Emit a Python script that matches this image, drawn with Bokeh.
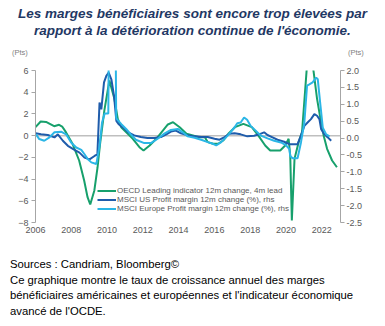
from bokeh.plotting import figure
from bokeh.models import (Range1d, LinearAxis, FixedTicker, NumeralTickFormatter, Span,
                          Legend, LegendItem, Div)
from bokeh.layouts import column
from bokeh.embed import file_html
from bokeh.resources import INLINE

# ---------------- data ----------------
title_lines = ["Les marges bénéficiaires sont encore trop élevées par",
               "rapport à la détérioration continue de l'économie."]
footer_lines = ["Sources : Candriam, Bloomberg©",
                "Ce graphique montre le taux de croissance annuel des marges",
                "bénéficiaires américaines et européennes et l'indicateur économique",
                "avancé de l'OCDE."]
legend_labels = ["OECD Leading indicator 12m change, 4m lead",
                 "MSCI US Profit margin 12m change (%), rhs",
                 "MSCI Europe Profit margin 12m change (%), rhs"]
year_ticks = [2006, 2008, 2010, 2012, 2014, 2016, 2018, 2020, 2022]
left_ticks = [-8, -6, -4, -2, 0, 2, 4, 6]
right_ticks = [-2.5, -2.0, -1.5, -1.0, -0.5, 0.0, 0.5, 1.0, 1.5, 2.0]

# OECD leading indicator, 12m change, 4m lead (left axis, pts)
oecd_year = [2006.00, 2006.29, 2006.59, 2007.04, 2007.32, 2007.49, 2007.70, 2008.07, 2008.44,
             2008.72, 2008.91, 2009.06, 2009.29, 2009.47, 2009.61, 2009.85, 2010.13, 2010.41,
             2010.60, 2010.79, 2011.16, 2011.44, 2011.81, 2012.04, 2012.38, 2012.75, 2013.12,
             2013.40, 2013.69, 2014.06, 2014.44, 2015.00, 2015.17, 2015.47, 2015.63, 2015.92,
             2016.21, 2016.49, 2016.78, 2017.15, 2017.62, 2018.09, 2018.46, 2018.84, 2019.12,
             2019.68, 2019.96, 2020.15, 2020.24, 2020.33, 2020.48, 2020.71, 2020.90, 2021.08,
             2021.20, 2021.33, 2021.46, 2021.55, 2021.74, 2021.93, 2022.11, 2022.30, 2022.58,
             2022.85]
oecd_val = [0.78, 1.30, 1.26, 0.87, 1.00, 0.84, 0.32, -0.75, -2.29,
            -4.13, -5.67, -6.34, -5.05, -2.91, -0.75, 2.32, 5.08, 3.39,
            1.55, 0.78, 0.17, -0.29, -1.06, -1.37, -0.91, -0.29, 0.47,
            1.03, 1.24, 0.78, 0.17, -0.08, -0.14, -0.14, -0.60, -0.75,
            -0.75, -0.45, 0.17, 0.78, 1.09, 0.78, 0.00, -0.91, -1.37,
            -1.37, -0.91, -0.29, -1.83, -7.82, -2.13, -0.60, 0.32, 4.31,
            7.00, 8.30, 7.00, 5.84, 3.39, 1.55, 0.00, -1.21, -2.29,
            -2.91]

# MSCI US profit margin 12m change (%), right axis
us_year = [2006.00, 2006.31, 2006.69, 2007.06, 2007.25, 2007.53, 2007.81, 2008.18, 2008.46,
           2008.74, 2009.02, 2009.30, 2009.46, 2009.58, 2009.68, 2009.83, 2009.96, 2010.09,
           2010.24, 2010.39, 2010.52, 2010.65, 2010.90, 2011.18, 2011.52, 2011.89, 2012.26,
           2012.64, 2013.01, 2013.29, 2013.57, 2013.85, 2014.13, 2014.51, 2014.89, 2015.26,
           2015.63, 2016.01, 2016.29, 2016.57, 2016.85, 2017.13, 2017.47, 2017.84, 2018.22,
           2018.50, 2018.78, 2018.97, 2019.25, 2019.53, 2019.90, 2020.19, 2020.47, 2020.65,
           2020.84, 2021.03, 2021.21, 2021.40, 2021.59, 2021.74, 2021.87, 2021.97, 2022.15,
           2022.34, 2022.53]
us_val = [0.14, 0.11, 0.09, 0.02, 0.11, -0.08, -0.23, -0.35, -0.43,
          -0.58, -0.63, -0.53, -0.48, 1.05, 0.85, 1.65, 1.84, 1.94,
          1.74, 1.25, 0.51, 0.41, 0.31, 0.17, 0.08, 0.03, 0.00,
          0.00, 0.03, 0.10, 0.19, 0.22, 0.14, 0.08, 0.05, 0.03,
          0.03, -0.02, -0.05, 0.03, 0.13, 0.14, 0.11, 0.05, 0.07,
          0.11, 0.17, 0.09, 0.02, -0.05, -0.11, -0.18, -0.18, -0.18,
          0.07, 0.36, 0.46, 0.56, 0.71, 0.66, 0.56, 0.26, 0.11,
          0.02, -0.08]

# MSCI Europe profit margin 12m change (%), right axis
eu_year = [2006.03, 2006.21, 2006.49, 2006.78, 2007.06, 2007.43, 2007.71, 2007.99, 2008.28,
           2008.56, 2008.74, 2008.93, 2009.12, 2009.40, 2009.58, 2009.72, 2009.87, 2010.07,
           2010.09, 2010.49, 2010.51, 2010.55, 2010.80, 2011.08, 2011.33, 2011.61, 2012.08,
           2012.45, 2012.83, 2013.20, 2013.57, 2013.95, 2014.23, 2014.51, 2014.89, 2015.26,
           2015.63, 2015.92, 2016.10, 2016.38, 2016.76, 2017.13, 2017.28, 2017.47, 2017.66,
           2017.83, 2018.03, 2018.31, 2018.60, 2018.97, 2019.34, 2019.72, 2020.00, 2020.19,
           2020.24, 2020.37, 2020.65, 2020.84, 2021.03, 2021.18, 2021.31, 2021.49, 2021.69,
           2021.78, 2021.93, 2022.06, 2022.25, 2022.44]
eu_val = [0.11, -0.03, -0.08, 0.02, 0.17, 0.19, 0.11, -0.13, -0.28,
          -0.35, -0.48, -0.63, -0.72, -0.77, -0.23, 0.46, 0.73, 0.73,
          2.20, 2.20, 0.60, 0.56, 0.41, 0.26, 0.11, -0.05, -0.15,
          -0.15, -0.02, 0.13, 0.24, 0.27, 0.17, 0.05, 0.01, -0.05,
          -0.12, -0.17, -0.22, -0.12, 0.08, 0.32, 0.44, 0.46, 0.61,
          0.54, 0.36, 0.22, 0.07, -0.01, -0.08, -0.13, -0.21, -0.33,
          -0.53, -0.60, -0.60, -0.13, 0.46, 1.55, 1.59, 1.65, 1.79,
          1.74, 0.96, 0.31, 0.11, 0.05]

# ---------------- styles ----------------
GREEN = "#17A06C"
DARK_BLUE = "#1F5CAB"
LIGHT_BLUE = "#2BB6E6"
AXIS_GRAY = "#A6A6A6"
TEXT_GRAY = "#595959"
FONT = "Liberation Sans"

p = figure(frame_width=305, frame_height=152, output_backend="svg", toolbar_location=None,
           x_range=Range1d(2006.0, 2023.05), y_range=Range1d(-8, 6),
           min_border_left=35, min_border_right=45, min_border_top=12, min_border_bottom=22,
           background_fill_color="white", border_fill_color="white")
p.outline_line_color = None
p.grid.visible = False

p.extra_y_ranges = {"rhs": Range1d(-2.5, 2.0)}

# zero line
p.add_layout(Span(location=0, dimension="width", line_color="#BFBFBF", line_width=1.5,
                  level="underlay"))

r_oecd = p.line(oecd_year, oecd_val, line_color=GREEN, line_width=2)
r_us = p.line(us_year, us_val, line_color=DARK_BLUE, line_width=2, y_range_name="rhs")
r_eu = p.line(eu_year, eu_val, line_color=LIGHT_BLUE, line_width=2, y_range_name="rhs")

# x axis: labels only
xa = p.xaxis[0]
xa.ticker = FixedTicker(ticks=year_ticks)
xa.axis_line_color = None
xa.major_tick_line_color = None
xa.major_tick_in = 0
xa.major_tick_out = 0
xa.minor_tick_line_color = None
xa.minor_tick_in = 0
xa.minor_tick_out = 0
xa.major_label_standoff = 4
xa.major_label_text_font = FONT
xa.major_label_text_font_size = "9px"
xa.major_label_text_color = TEXT_GRAY

# left axis
ya = p.yaxis[0]
ya.ticker = FixedTicker(ticks=left_ticks)
ya.axis_line_color = AXIS_GRAY
ya.major_tick_line_color = AXIS_GRAY
ya.major_tick_in = 0
ya.major_tick_out = 4
ya.minor_tick_line_color = None
ya.major_label_standoff = 3
ya.major_label_text_font = FONT
ya.major_label_text_font_size = "9px"
ya.major_label_text_color = TEXT_GRAY

# right axis
ra = LinearAxis(y_range_name="rhs", ticker=FixedTicker(ticks=right_ticks),
                formatter=NumeralTickFormatter(format="0.0"))
ra.axis_line_color = AXIS_GRAY
ra.major_tick_line_color = AXIS_GRAY
ra.major_tick_in = 0
ra.major_tick_out = 4
ra.minor_tick_line_color = None
ra.major_label_standoff = 2
ra.major_label_text_font = FONT
ra.major_label_text_font_size = "9px"
ra.major_label_text_color = TEXT_GRAY
p.add_layout(ra, "right")

legend = Legend(items=[LegendItem(label=legend_labels[0], renderers=[r_oecd]),
                       LegendItem(label=legend_labels[1], renderers=[r_us]),
                       LegendItem(label=legend_labels[2], renderers=[r_eu])],
                location=(62, 9), orientation="vertical",
                background_fill_alpha=0, border_line_color=None,
                padding=0, spacing=-2, margin=0,
                glyph_width=19, glyph_height=9, label_height=9, label_standoff=1,
                label_text_font=FONT, label_text_font_size="8px",
                label_text_color=TEXT_GRAY)
p.add_layout(legend)

title_html = (
    '<div style="position:relative;width:385px;height:58px;font-family:\'Liberation Sans\',Arial,sans-serif;">'
    '<div style="position:absolute;left:0;top:5px;width:385px;text-align:center;font-weight:bold;'
    'font-style:italic;font-size:13.5px;line-height:17px;color:#1F3864;">'
    + title_lines[0] + '<br>' + title_lines[1] + '</div>'
    '<span style="position:absolute;left:12px;top:48px;font-size:7.5px;color:#808080;">(Pts)</span>'
    '<span style="position:absolute;left:348px;top:48px;font-size:7.5px;color:#808080;">(Pts)</span>'
    '</div>')
title_div = Div(text=title_html, width=385, height=58, margin=(0, 0, 0, 0))

footer_html = (
    '<div style="width:385px;height:82px;padding:13px 0 0 10px;box-sizing:border-box;'
    'font-family:\'Liberation Sans\',Arial,sans-serif;font-size:11.3px;line-height:15.7px;color:#000000;">'
    + '<br>'.join(footer_lines) + '</div>')
footer_div = Div(text=footer_html, width=385, height=82, margin=(0, 0, 0, 0))

layout = column(title_div, p, footer_div, spacing=0)

open("out.html", "w").write(file_html(layout, INLINE))
